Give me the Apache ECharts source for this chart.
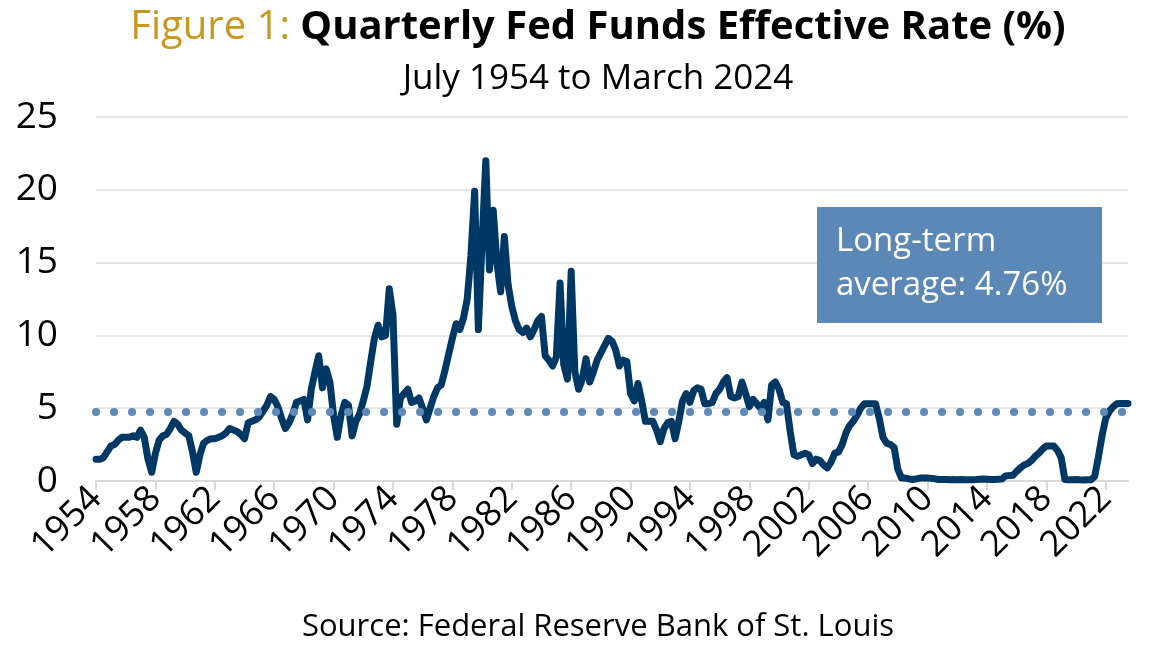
<!DOCTYPE html>
<html><head><meta charset="utf-8">
<script src="https://cdn.jsdelivr.net/npm/echarts@6/dist/echarts.min.js"></script>
<style>html,body{margin:0;padding:0;background:#fff}#c{width:1159px;height:657px}</style>
</head><body><div id="c"></div>
<script>
// Quarterly effective fed funds rate (%), Q3 1954 .. Q1 2024
const START_YEAR = 1954;
const START_QUARTER = 3;
const rates = [
  1.5, 1.5, 1.6, 2.0, 2.4, 2.5, 2.8, 3.0, 3.0, 3.0,
  3.1, 3.0, 3.5, 3.0, 1.5, 0.6, 1.9, 2.8, 3.1, 3.2,
  3.6, 4.1, 3.9, 3.5, 3.3, 3.1, 2.0, 0.6, 1.8, 2.6,
  2.8, 2.9, 2.9, 3.0, 3.1, 3.3, 3.6, 3.5, 3.4, 3.2,
  2.9, 4.0, 4.1, 4.2, 4.4, 4.8, 5.2, 5.8, 5.6, 5.1,
  4.3, 3.6, 4.0, 4.6, 5.4, 5.5, 5.6, 4.2, 6.3, 7.5,
  8.6, 6.4, 7.7, 6.8, 4.5, 3.0, 4.5, 5.4, 5.2, 3.1,
  4.1, 4.6, 5.5, 6.5, 8.2, 9.8, 10.7, 9.9, 10.0, 13.2,
  11.4, 3.9, 5.7, 6.0, 6.3, 5.4, 5.5, 5.7, 5.0, 4.2,
  5.0, 5.8, 6.4, 6.6, 7.6, 8.7, 9.8, 10.8, 10.4, 11.2,
  12.5, 15.5, 19.9, 10.4, 16.4, 22.0, 14.5, 18.6, 15.0, 13.0,
  16.8, 13.5, 12.0, 11.0, 10.4, 10.2, 10.5, 9.9, 10.4, 11.0,
  11.3, 8.6, 8.3, 7.9, 8.5, 13.6, 8.0, 7.0, 14.4, 7.5,
  6.3, 7.0, 8.4, 6.8, 7.5, 8.3, 8.8, 9.3, 9.8, 9.6,
  9.0, 7.9, 8.3, 8.2, 6.0, 5.5, 6.7, 5.5, 4.1, 4.1,
  4.1, 3.5, 2.7, 3.6, 4.0, 4.1, 2.9, 4.1, 5.5, 6.0,
  5.4, 6.2, 6.4, 6.3, 5.3, 5.3, 5.4, 6.0, 6.3, 6.8,
  7.1, 5.8, 5.7, 5.8, 6.8, 6.0, 5.1, 5.6, 5.3, 5.0,
  5.4, 4.2, 6.6, 6.8, 6.3, 5.4, 5.3, 3.4, 1.8, 1.7,
  1.8, 1.9, 1.8, 1.2, 1.5, 1.4, 1.1, 0.9, 1.3, 1.9,
  2.0, 2.5, 3.3, 3.8, 4.1, 4.5, 5.0, 5.3, 5.3, 5.3,
  5.3, 4.3, 3.0, 2.6, 2.5, 2.3, 0.8, 0.2, 0.2, 0.15,
  0.1, 0.15, 0.2, 0.2, 0.2, 0.18, 0.15, 0.1, 0.1, 0.1,
  0.08, 0.1, 0.09, 0.1, 0.09, 0.08, 0.09, 0.1, 0.12, 0.13,
  0.12, 0.1, 0.1, 0.12, 0.13, 0.35, 0.37, 0.4, 0.66, 0.9,
  1.1, 1.2, 1.4, 1.7, 1.9, 2.2, 2.4, 2.4, 2.4, 2.1,
  1.6, 0.1, 0.08, 0.09, 0.1, 0.08, 0.07, 0.08, 0.08, 0.3,
  1.6, 3.1, 4.3, 4.8, 5.1, 5.3, 5.33, 5.33, 5.33
];
const LONG_TERM_AVERAGE = 4.76;
const yTicks = [0, 5, 10, 15, 20, 25];
const X_LABEL_EVERY = 16; // quarters between year labels (4 years)

const titleLead = 'Figure 1:';
const titleMain = 'Quarterly Fed Funds Effective Rate (%)';
const subtitle = 'July 1954 to March 2024';
const sourceText = 'Source: Federal Reserve Bank of St. Louis';
const noteLines = ['Long-term', 'average: 4.76%'];

const quarters = rates.map((_, i) => {
  const q = START_QUARTER - 1 + i;
  return (START_YEAR + Math.floor(q / 4)) + ' Q' + (q % 4 + 1);
});

const FONT = '"Open Sans", "Noto Sans", sans-serif';
const NAVY = '#003865';
const STEEL = '#5F89B6';

const chart = echarts.init(document.getElementById('c'), null, {renderer: 'canvas'});
chart.setOption({
  animation: false,
  backgroundColor: '#ffffff',
  grid: {left: 96, right: 31, top: 117, bottom: 176, containLabel: false},
  xAxis: {
    type: 'category',
    data: quarters,
    boundaryGap: false,
    axisLine: {lineStyle: {color: '#D9D9D9', width: 2}},
    axisTick: {show: true, length: 9, interval: X_LABEL_EVERY - 1, lineStyle: {color: '#D9D9D9', width: 2}},
    axisLabel: {
      interval: X_LABEL_EVERY - 1,
      rotate: 45,
      margin: 12,
      color: '#000',
      fontFamily: FONT,
      fontSize: 36,
      formatter: v => v.slice(0, 4)
    },
    splitLine: {show: false}
  },
  yAxis: {
    type: 'value',
    min: yTicks[0],
    max: yTicks[yTicks.length - 1],
    interval: yTicks[1] - yTicks[0],
    axisLine: {show: false},
    axisTick: {show: false},
    axisLabel: {color: '#000', fontFamily: FONT, fontSize: 37, margin: 38},
    splitLine: {lineStyle: {color: '#E6E6E6', width: 2}}
  },
  series: [{
    type: 'line',
    data: rates,
    symbol: 'none',
    smooth: false,
    lineStyle: {color: NAVY, width: 7, join: 'round', cap: 'round'},
    markLine: {
      silent: true,
      symbol: ['none', 'none'],
      label: {show: false},
      lineStyle: {color: STEEL, width: 8, type: [0.1, 17.9], cap: 'round'},
      data: [{yAxis: LONG_TERM_AVERAGE}]
    },
    z: 2
  }],
  graphic: [
    {
      type: 'text', x: 598, y: 8,
      style: {
        text: '{a|' + titleLead + ' }{b|' + titleMain + '}',
        align: 'center', verticalAlign: 'top',
        rich: {
          a: {fontFamily: FONT, fontSize: 40, fontWeight: 'normal', fill: '#C8981E', color: '#C8981E'},
          b: {fontFamily: FONT, fontSize: 40, fontWeight: 'bold', fill: '#000', color: '#000'}
        }
      }
    },
    {
      type: 'text', x: 598, y: 62,
      style: {text: subtitle, align: 'center', verticalAlign: 'top', fontFamily: FONT, fontSize: 35, fill: '#000'}
    },
    {
      type: 'text', x: 598, y: 612,
      style: {text: sourceText, align: 'center', verticalAlign: 'top', fontFamily: FONT, fontSize: 31, fill: '#000'}
    },
    {
      type: 'rect', shape: {x: 817, y: 207, width: 285, height: 116},
      style: {fill: '#5B88B6'}, z: 10
    },
    {
      type: 'text', x: 836, y: 220, z: 11,
      style: {text: noteLines.join('\n'), fontFamily: FONT, fontSize: 33, lineHeight: 44, fill: '#fff', align: 'left', verticalAlign: 'top'}
    }
  ]
});
</script>
</body></html>
